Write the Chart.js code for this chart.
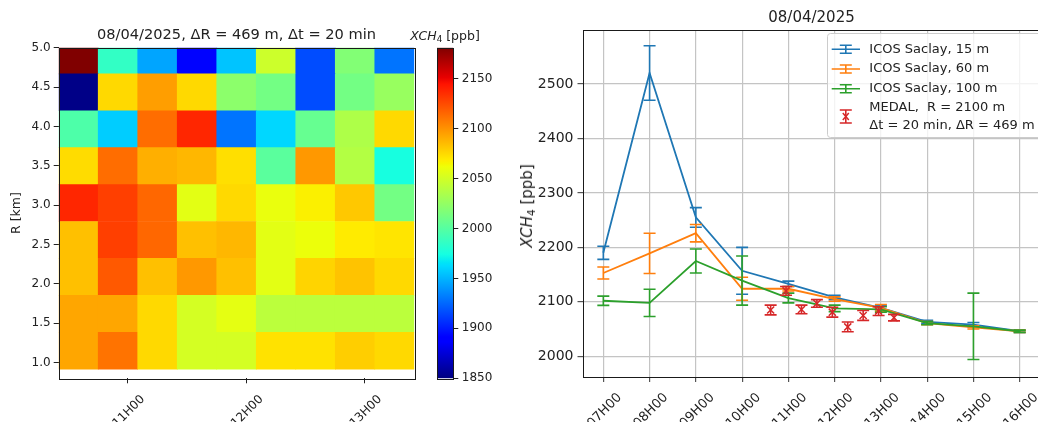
<!DOCTYPE html>
<html>
<head>
<meta charset="utf-8">
<script src="https://cdn.jsdelivr.net/npm/chart.js@4.4.0/dist/chart.umd.min.js"></script>
<style>
    html, body { margin: 0; padding: 0; background: #fff; overflow: hidden; width: 1038px; height: 422px; }
    body { position: relative; font-family: "DejaVu Sans", sans-serif; color: #222; }
    canvas { position: absolute; top: 0; }
    #heat { left: 0; }
    #cbar { left: 430px; }
    #line { left: 520px; }
    .lbl { position: absolute; white-space: nowrap; transform: translate(-50%, -50%); }
    .lbl sub { font-size: 70%; vertical-align: -0.25em; line-height: 0; }
    #ylab { transform: translate(-50%, -50%) rotate(-90deg); }
</style>
</head>
<body>
<canvas id="heat" width="420" height="422"></canvas>
<canvas id="cbar" width="80" height="422"></canvas>
<canvas id="line" width="527" height="422"></canvas>
<div class="lbl" id="cblab" style="left:445px; top:35px; font-size:12.5px;"><i>XCH</i><sub>4</sub> [ppb]</div>
<div class="lbl" id="ylab" style="left:527px; top:206px; font-size:15px;"><i>XCH</i><sub>4</sub> [ppb]</div>

<script>
(function () {
    "use strict";

    // ---- MEDAL range-time map (20 min steps, 469 m gates) ----
    var HEAT_TIMES = ["10:35", "10:55", "11:15", "11:35", "11:55", "12:15", "12:35", "12:55", "13:15"];
    var RANGE_EDGES = [0.916, 1.385, 1.854, 2.323, 2.792, 3.261, 3.730, 4.199, 4.668, 5.137];
    // one row per range gate, lowest gate first
    var XCH4_MAP = [
        [2093, 2111, 2075, 2051, 2051, 2072, 2072, 2079, 2075],
        [2093, 2093, 2075, 2051, 2058, 2041, 2041, 2041, 2041],
        [2084, 2120, 2084, 2098, 2084, 2057, 2077, 2083, 2075],
        [2084, 2129, 2115, 2084, 2087, 2057, 2061, 2069, 2071],
        [2138, 2129, 2115, 2057, 2075, 2060, 2067, 2081, 2012],
        [2074, 2113, 2090, 2087, 2073, 2002, 2098, 2038, 1975],
        [1997, 1958, 2113, 2138, 1929, 1961, 2007, 2036, 2075],
        [1852, 2075, 2096, 2075, 2022, 2012, 1916, 2012, 2027],
        [2181, 1986, 1945, 1892, 1955, 2048, 1916, 2018, 1929]
    ];
    var HEAT_XTICKS = [11, 12, 13];
    var HEAT_YTICKS = [1.0, 1.5, 2.0, 2.5, 3.0, 3.5, 4.0, 4.5, 5.0];
    var CBAR_TICKS = [1850, 1900, 1950, 2000, 2050, 2100, 2150];
    var VMIN = 1850, VMAX = 2181;

    // ---- ICOS Saclay tower + MEDAL at R = 2100 m ----
    var ICOS_HOURS = [7, 8, 9, 10, 11, 12, 13, 14, 15, 16];
    var ICOS_15 = [2190, 2520, 2255, 2157, 2133, 2108, 2089, 2063, 2058, 2046];
    var ICOS_15_ERR = [12, 50, 18, 43, 5, 4, 4, 3, 4, 2];
    var ICOS_60 = [2153, 2189, 2226, 2124, 2124, 2105, 2089, 2061, 2053, 2046];
    var ICOS_60_ERR = [11, 37, 16, 21, 4, 4, 6, 3, 3, 2];
    var ICOS_100 = [2102, 2098, 2175, 2139, 2107, 2088, 2086, 2061, 2055, 2046];
    var ICOS_100_ERR = [8.5, 25, 22, 45, 9, 6, 5, 3, 61, 2];
    var MEDAL_TIMES = ["10:37", "10:57", "11:17", "11:37", "11:57", "12:17", "12:37", "12:57", "13:17"];
    var MEDAL_XCH4 = [2085, 2120, 2086, 2097, 2081, 2054, 2075, 2083, 2071];
    var MEDAL_ERR = [9, 8, 8, 7, 9, 9, 9, 8, 6];
    var LINE_YTICKS = [2000, 2100, 2200, 2300, 2400, 2500];

    var TXT = "#222";
    Chart.defaults.font.family = '"DejaVu Sans", sans-serif';
    Chart.defaults.color = TXT;

    function toHours(s) {
        var p = s.split(":");
        return +p[0] + (+p[1]) / 60;
    }

    function hourLabel(v) {
        return (v < 10 ? "0" : "") + v + "H00";
    }

    function plain(v) {
        return String(v);
    }

    // matplotlib "jet"
    var JET_R = [[0, 0], [0.35, 0], [0.66, 1], [0.89, 1], [1, 0.5]];
    var JET_G = [[0, 0], [0.125, 0], [0.375, 1], [0.64, 1], [0.91, 0], [1, 0]];
    var JET_B = [[0, 0.5], [0.11, 1], [0.34, 1], [0.65, 0], [1, 0]];
    var JET_STOPS = [0, 0.11, 0.125, 0.34, 0.35, 0.375, 0.64, 0.65, 0.66, 0.89, 0.91, 1];

    function channel(t, pts) {
        for (var i = 0; i < pts.length - 1; i++) {
            if (t <= pts[i + 1][0]) {
                var f = (t - pts[i][0]) / (pts[i + 1][0] - pts[i][0]);
                return pts[i][1] + f * (pts[i + 1][1] - pts[i][1]);
            }
        }
        return pts[pts.length - 1][1];
    }

    function jet(v) {
        var t = Math.max(0, Math.min(1, (v - VMIN) / (VMAX - VMIN)));
        return "rgb(" + Math.round(255 * channel(t, JET_R)) + "," +
            Math.round(255 * channel(t, JET_G)) + "," +
            Math.round(255 * channel(t, JET_B)) + ")";
    }

    // black box round the axes, like matplotlib spines
    var frame = {
        id: "frame",
        afterDraw: function (chart) {
            var a = chart.chartArea, ctx = chart.ctx;
            ctx.save();
            ctx.strokeStyle = "#1a1a1a";
            ctx.lineWidth = 1;
            ctx.strokeRect(Math.round(a.left) + 0.5, Math.round(a.top) + 0.5,
                Math.round(a.right - a.left), Math.round(a.bottom - a.top));
            ctx.restore();
        }
    };

    // title centred over the plot area instead of the whole canvas
    var areaTitle = {
        id: "areaTitle",
        afterDraw: function (chart, args, opts) {
            var a = chart.chartArea, ctx = chart.ctx;
            ctx.save();
            ctx.font = opts.size + 'px "DejaVu Sans", sans-serif';
            ctx.fillStyle = TXT;
            ctx.textAlign = "center";
            ctx.textBaseline = "middle";
            ctx.fillText(opts.text, (a.left + a.right) / 2, opts.y);
            ctx.restore();
        }
    };

    function fixWidth(w) {
        return function (s) { s.width = w; s.paddingTop = 0; s.paddingBottom = 0; };
    }
    function fixHeight(h) {
        return function (s) { s.height = h; s.paddingLeft = 0; s.paddingRight = 0; };
    }
    function setTicks(list) {
        return function (s) { s.ticks = list.map(function (v) { return { value: v }; }); };
    }

    // Range-time map
    var heatSets = XCH4_MAP.map(function (row, r) {
        return {
            data: HEAT_TIMES.map(function (t, i) {
                return { x: toHours(t), y: [RANGE_EDGES[r], RANGE_EDGES[r + 1]] };
            }),
            backgroundColor: row.map(jet),
            borderWidth: 0,
            grouped: false,
            barPercentage: 1,
            categoryPercentage: 1,
            clip: 0
        };
    });

    new Chart(document.getElementById("heat"), {
        type: "bar",
        data: { datasets: heatSets },
        options: {
            responsive: false,
            animation: false,
            events: [],
            layout: { padding: { left: 0, right: 5.7, top: 47.7, bottom: 0 } },
            plugins: {
                legend: { display: false },
                tooltip: { enabled: false },
                areaTitle: { text: "08/04/2025, \u0394R = 469 m, \u0394t = 20 min", size: 14.6, y: 35 }
            },
            scales: {
                x: {
                    type: "linear",
                    min: toHours("10:25"),
                    max: toHours("13:25"),
                    offset: false,
                    afterFit: fixHeight(43.7),
                    afterBuildTicks: setTicks(HEAT_XTICKS),
                    border: { display: false },
                    grid: { offset: false, drawOnChartArea: false, tickLength: 5, color: TXT },
                    ticks: {
                        autoSkip: false, minRotation: 45, maxRotation: 45,
                        labelOffset: 15, padding: 9,
                        font: { size: 12 },
                        callback: hourLabel
                    }
                },
                y: {
                    type: "linear",
                    min: 0.8,
                    max: 5.0,
                    afterFit: fixWidth(58.7),
                    afterBuildTicks: setTicks(HEAT_YTICKS),
                    border: { display: false },
                    grid: { drawOnChartArea: false, tickLength: 5, color: TXT },
                    title: { display: true, text: "R [km]", font: { size: 12.5 }, padding: { top: 9, bottom: 0 } },
                    ticks: {
                        padding: 3,
                        font: { size: 12 },
                        callback: function (v) { return v.toFixed(1); }
                    }
                }
            }
        },
        plugins: [frame, areaTitle]
    });

    // Colour bar
    new Chart(document.getElementById("cbar"), {
        type: "bar",
        data: {
            labels: [""],
            datasets: [{
                data: [[VMIN, VMAX]],
                barPercentage: 1,
                categoryPercentage: 1,
                borderWidth: 0,
                backgroundColor: function (c) {
                    var chart = c.chart;
                    if (!chart.chartArea) return "#888";
                    var ys = chart.scales.y;
                    var g = chart.ctx.createLinearGradient(0, ys.getPixelForValue(VMIN), 0, ys.getPixelForValue(VMAX));
                    JET_STOPS.forEach(function (t) {
                        g.addColorStop(t, jet(VMIN + t * (VMAX - VMIN)));
                    });
                    return g;
                }
            }]
        },
        options: {
            responsive: false,
            animation: false,
            events: [],
            layout: { padding: { left: 7, right: 0, top: 47.7, bottom: 43.7 } },
            plugins: { legend: { display: false }, tooltip: { enabled: false } },
            scales: {
                x: { display: false },
                y: {
                    position: "right",
                    min: VMIN,
                    max: VMAX,
                    afterFit: fixWidth(56.7),
                    afterBuildTicks: setTicks(CBAR_TICKS),
                    border: { display: false },
                    grid: { drawOnChartArea: false, tickLength: 5, color: TXT },
                    ticks: { padding: 3.5, font: { size: 12 }, callback: plain }
                }
            }
        },
        plugins: [frame]
    });

    // error bars, drawn per dataset so they stay in the dataset's layer
    var errorBars = {
        id: "errorBars",
        afterDatasetDraw: function (chart, args) {
            var ds = chart.data.datasets[args.index];
            if (!ds.errors) return;
            var xs = chart.scales.x, ys = chart.scales.y, ctx = chart.ctx, a = chart.chartArea;
            var cap = 6;
            ctx.save();
            ctx.beginPath();
            ctx.rect(a.left, a.top, a.right - a.left, a.bottom - a.top);
            ctx.clip();
            ctx.strokeStyle = ds.borderColor;
            ctx.lineWidth = 1.6;
            ctx.beginPath();
            ds.data.forEach(function (p, i) {
                var x = xs.getPixelForValue(p.x);
                var y0 = ys.getPixelForValue(p.y - ds.errors[i]);
                var y1 = ys.getPixelForValue(p.y + ds.errors[i]);
                ctx.moveTo(x, y0); ctx.lineTo(x, y1);
                ctx.moveTo(x - cap, y0); ctx.lineTo(x + cap, y0);
                ctx.moveTo(x - cap, y1); ctx.lineTo(x + cap, y1);
            });
            ctx.stroke();
            ctx.restore();
        }
    };

    // matplotlib style legend with errorbar glyphs
    var errLegend = {
        id: "errLegend",
        afterDraw: function (chart) {
            var ctx = chart.ctx;
            var box = { x: 307, y: 33, w: 215, h: 104 };
            var rows = [49.3, 69, 88.7, 116.5];
            var gx0 = 311.7, gx1 = 340, gc = 325.8, tx = 349.3;
            ctx.save();
            ctx.fillStyle = "rgba(255,255,255,0.8)";
            ctx.strokeStyle = "#cccccc";
            ctx.lineWidth = 1;
            ctx.beginPath();
            ctx.roundRect(box.x + 0.5, box.y + 0.5, box.w, box.h, 3);
            ctx.fill();
            ctx.stroke();
            ctx.font = '13px "DejaVu Sans", sans-serif';
            ctx.textBaseline = "middle";
            ctx.textAlign = "left";
            chart.data.datasets.forEach(function (ds, i) {
                var y = rows[i];
                var h = ds.showLine ? 4 : 6.5;
                ctx.strokeStyle = ds.borderColor;
                ctx.lineWidth = 1.6;
                ctx.beginPath();
                if (ds.showLine) { ctx.moveTo(gx0, y); ctx.lineTo(gx1, y); }
                ctx.moveTo(gc, y - h); ctx.lineTo(gc, y + h);
                ctx.moveTo(gc - 6, y - h); ctx.lineTo(gc + 6, y - h);
                ctx.moveTo(gc - 6, y + h); ctx.lineTo(gc + 6, y + h);
                ctx.stroke();
                if (!ds.showLine) {
                    ctx.lineWidth = 1.5;
                    ctx.beginPath();
                    ctx.moveTo(gc - 3, y - 3.5); ctx.lineTo(gc + 3, y + 3.5);
                    ctx.moveTo(gc + 3, y - 3.5); ctx.lineTo(gc - 3, y + 3.5);
                    ctx.stroke();
                }
                ctx.fillStyle = TXT;
                var lines = [].concat(ds.label);
                var lh = 17.3;
                lines.forEach(function (t, k) {
                    ctx.fillText(t, tx, y + (k - (lines.length - 1) / 2) * lh);
                });
            });
            ctx.restore();
        }
    };

    function points(xs, ys) {
        return xs.map(function (x, i) { return { x: x, y: ys[i] }; });
    }

    function icos(label, values, errors, color, order) {
        return {
            label: label,
            data: points(ICOS_HOURS, values),
            errors: errors,
            showLine: true,
            tension: 0,
            borderColor: color,
            backgroundColor: color,
            borderWidth: 1.8,
            pointRadius: 0,
            order: order
        };
    }

    new Chart(document.getElementById("line"), {
        type: "scatter",
        data: {
            datasets: [
                icos("ICOS Saclay, 15 m", ICOS_15, ICOS_15_ERR, "#1f77b4", 4),
                icos("ICOS Saclay, 60 m", ICOS_60, ICOS_60_ERR, "#ff7f0e", 3),
                icos("ICOS Saclay, 100 m", ICOS_100, ICOS_100_ERR, "#2ca02c", 2),
                {
                    label: ["MEDAL,  R = 2100 m", "\u0394t = 20 min, \u0394R = 469 m"],
                    data: points(MEDAL_TIMES.map(toHours), MEDAL_XCH4),
                    errors: MEDAL_ERR,
                    showLine: false,
                    borderColor: "#d62728",
                    backgroundColor: "#d62728",
                    pointStyle: "crossRot",
                    pointRadius: 5,
                    pointBorderWidth: 1.5,
                    order: 1
                }
            ]
        },
        options: {
            responsive: false,
            animation: false,
            events: [],
            layout: { padding: { left: 0, right: 0, top: 30, bottom: 0 } },
            plugins: {
                legend: { display: false },
                tooltip: { enabled: false },
                areaTitle: { text: "08/04/2025", size: 15, y: 18.3 }
            },
            scales: {
                x: {
                    type: "linear",
                    min: 6.55,
                    max: 16.45,
                    afterFit: fixHeight(45),
                    afterBuildTicks: setTicks(ICOS_HOURS),
                    border: { display: false },
                    grid: { color: "#c4c4c4", lineWidth: 1.2, tickLength: 5, tickColor: "#555" },
                    ticks: {
                        autoSkip: false, minRotation: 45, maxRotation: 45,
                        labelOffset: 16.5, padding: 8,
                        font: { size: 13 },
                        callback: hourLabel
                    }
                },
                y: {
                    min: 1962,
                    max: 2599,
                    afterFit: fixWidth(62.5),
                    afterBuildTicks: setTicks(LINE_YTICKS),
                    border: { display: false },
                    grid: { color: "#c4c4c4", lineWidth: 1.2, tickLength: 5, tickColor: "#555" },
                    ticks: { padding: 4, font: { size: 14 }, callback: plain }
                }
            }
        },
        plugins: [errorBars, frame, areaTitle, errLegend]
    });
})();
</script>
</body>
</html>
